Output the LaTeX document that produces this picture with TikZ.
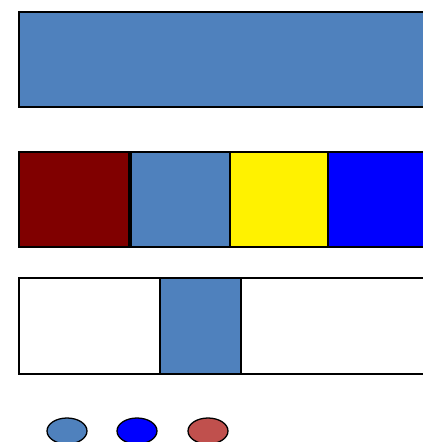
\documentclass[tikz,border=0pt]{standalone}
\usepackage{xcolor}
\definecolor{paneblue}{HTML}{4F81BD}
\definecolor{panered}{HTML}{800000}
\definecolor{dotred}{HTML}{C0504D}

\begin{document}
\begin{tikzpicture}[x=0.03cm,y=-0.03cm,
		cell/.style={draw=black,line width=1.4pt},
		dot/.style={draw=black,line width=1.1pt}]
		
		\useasboundingbox (0,0) rectangle (423,442);
		\clip (0,0) rectangle (423,442);
		
		% Top bar
		\draw[cell,fill=paneblue] (19,12) rectangle (440,107);
		
		% Coloured row
		\draw[cell,fill=panered] (19,152) rectangle (129,247);
		\draw[cell,fill=paneblue] (131,152) rectangle (230,247);
		\draw[cell,fill=yellow] (230,152) rectangle (328,247);
		\draw[cell,fill=blue] (328,152) rectangle (440,247);
		
		% Marked row
		\draw[cell,fill=white] (19,278) rectangle (440,374);
		\draw[cell,fill=paneblue] (160,278) rectangle (241,374);
		
		% Dots
		\draw[dot,fill=paneblue] (67,431) ellipse (20 and 13);
		\draw[dot,fill=blue] (137,431) ellipse (20 and 13);
		\draw[dot,fill=dotred] (208,431) ellipse (20 and 13);
		
	\end{tikzpicture}
\end{document}
